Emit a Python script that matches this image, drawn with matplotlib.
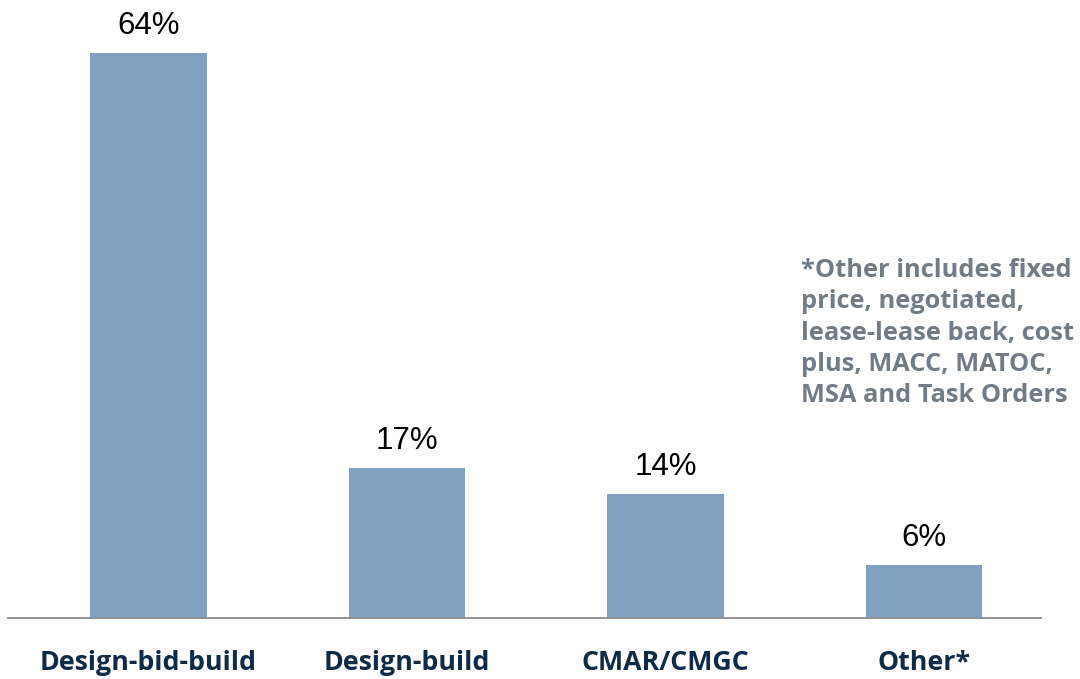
import matplotlib.pyplot as plt

categories = ["Design-bid-build", "Design-build", "CMAR/CMGC", "Other*"]
shares = [64, 17, 14, 6]
value_labels = ["64%", "17%", "14%", "6%"]
footnote = ("*Other includes fixed\nprice, negotiated,\nlease-lease back, cost\n"
            "plus, MACC, MATOC,\nMSA and Task Orders")

BAR_COLOR = "#80a2c0"
LABEL_COLOR = "#0f2b47"
NOTE_COLOR = "#717c86"

fig = plt.figure(figsize=(10.8, 6.79), dpi=100)
ax = fig.add_axes([8 / 1080, 61 / 679, 1033 / 1080, 618 / 679])

x = range(len(categories))
bars = ax.bar(x, shares, width=0.45, color=BAR_COLOR)

# percentage labels above each bar
for bar, txt in zip(bars, value_labels):
    ax.text(bar.get_x() + bar.get_width() / 2, bar.get_height() + 1.4, txt,
            ha="center", va="bottom", fontsize=22.5, color="black",
            family="Liberation Sans")

ax.set_xlim(-0.543, 3.453)
ax.set_ylim(0, 70)
ax.set_yticks([])
ax.set_xticks(list(x))
ax.set_xticklabels(categories, fontsize=19.3, fontweight="bold",
                   color=LABEL_COLOR, family="Open Sans")
ax.tick_params(axis="x", length=0, pad=23)
for side in ["top", "right", "left"]:
    ax.spines[side].set_visible(False)
ax.spines["bottom"].set_color("#8c8c8c")
ax.spines["bottom"].set_linewidth(1.3)

fig.text(801 / 1080, 1 - 258 / 679, footnote, ha="left", va="top",
         fontsize=18.3, fontweight="bold", color=NOTE_COLOR,
         family="Open Sans", linespacing=1.33)

fig.savefig("out.png", dpi=100)
